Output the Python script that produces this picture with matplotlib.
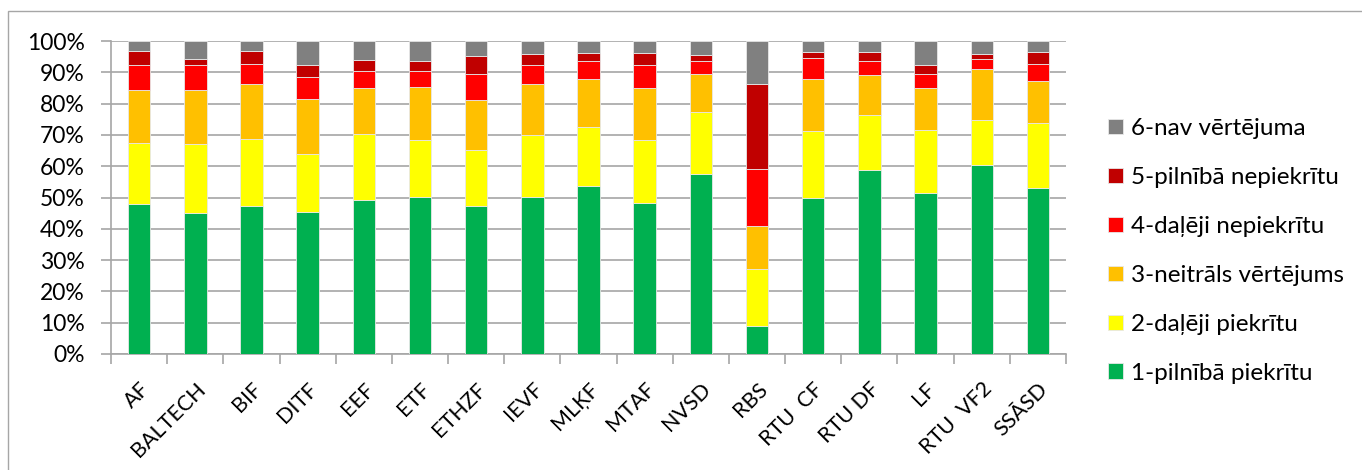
import matplotlib
matplotlib.use("Agg")
import matplotlib.pyplot as plt
import numpy as np
from matplotlib.patches import Rectangle

plt.rcParams['font.family'] = ['Lato', 'DejaVu Sans']

categories = ["AF", "BALTECH", "BIF", "DITF", "EEF", "ETF", "ETHZF", "IEVF", "MLĶF",
              "MTAF", "NVSD", "RBS", "RTU  CF", "RTU DF", "LF", "RTU  VF2", "SSĀSD"]

s1 = [47.8, 45.0, 47.3, 45.3, 49.1, 50.1, 47.2, 50.1, 53.7, 48.1, 57.5, 9.1, 49.8, 58.7, 51.4, 60.3, 52.9]
s2 = [19.6, 22.2, 21.4, 18.7, 21.2, 18.2, 17.9, 20.0, 18.9, 20.2, 19.9, 18.0, 21.4, 17.5, 20.3, 14.6, 21.0]
s3 = [16.9, 17.1, 17.6, 17.4, 14.8, 17.0, 16.1, 16.1, 15.2, 16.7, 12.2, 13.8, 16.8, 13.0, 13.3, 16.1, 13.4]
s4 = [7.9, 7.9, 6.2, 7.1, 5.2, 5.2, 8.4, 6.1, 5.7, 7.3, 3.9, 18.3, 6.6, 4.3, 4.3, 3.3, 5.5]
s5 = [4.6, 2.0, 4.3, 3.8, 3.6, 3.2, 5.5, 3.4, 2.8, 4.0, 2.1, 27.1, 1.8, 2.9, 3.1, 1.5, 3.8]
s6 = [3.2, 5.8, 3.2, 7.7, 6.1, 6.3, 4.9, 4.3, 3.7, 3.7, 4.4, 13.7, 3.6, 3.6, 7.6, 4.2, 3.4]

series_names = ["1-pilnībā piekrītu", "2-daļēji piekrītu", "3-neitrāls vērtējums",
                "4-daļēji nepiekrītu", "5-pilnībā nepiekrītu", "6-nav vērtējuma"]
colors = ["#00B050", "#FFFF00", "#FFC000", "#FF0000", "#C00000", "#808080"]

yticks = [0, 10, 20, 30, 40, 50, 60, 70, 80, 90, 100]
ytick_labels = [f"{v}%" for v in yticks]

data = np.array([s1, s2, s3, s4, s5, s6])
data = data / data.sum(axis=0) * 100

W, H = 1362, 470
fig = plt.figure(figsize=(W / 100, H / 100), dpi=100)
ax = fig.add_axes([111/W, 1 - 354/H, (1066-111)/W, (354-41)/H])

x = np.arange(len(categories))
bottom = np.zeros(len(categories))
handles = []
for i in range(6):
    h = ax.bar(x, data[i], 0.40, bottom=bottom, color=colors[i], label=series_names[i],
               edgecolor='#e8e8e8', linewidth=0.6, zorder=3)
    handles.append(h)
    bottom += data[i]

ax.set_xlim(-0.5, len(categories) - 0.5)
ax.set_ylim(0, 100)
ax.set_yticks(yticks)
ax.set_yticklabels(ytick_labels, fontsize=16.5)
ax.yaxis.grid(True, color='#a6a6a6', linewidth=1.2, zorder=0)
ax.tick_params(axis='y', length=7, width=1.2, color='#a6a6a6', pad=12)

ax.set_xticks(x)
ax.set_xticklabels(categories, rotation=45, ha='right', rotation_mode='anchor', fontsize=15.5)
ax.tick_params(axis='x', which='major', length=0, pad=18)
ax.set_xticks(np.arange(-0.5, len(categories), 1.0), minor=True)
ax.tick_params(axis='x', which='minor', length=7, width=1.2, color='#a6a6a6')

for side in ['top', 'right']:
    ax.spines[side].set_visible(False)
for side in ['left', 'bottom']:
    ax.spines[side].set_color('#a6a6a6')
    ax.spines[side].set_linewidth(1.2)

leg = fig.legend(handles[::-1], series_names[::-1], loc='upper left',
                 bbox_to_anchor=(1096/W, 1 - 106/H), frameon=False,
                 fontsize=17.5, handlelength=0.62, handleheight=0.62,
                 labelspacing=1.15, handletextpad=0.3, borderpad=0.0)

fig.patches.append(Rectangle((8/W, -0.01), 1.02, 1 - 11/H + 0.01, transform=fig.transFigure,
                             fill=False, edgecolor='#a6a6a6', linewidth=1.0))

fig.savefig("out.png", dpi=100)
